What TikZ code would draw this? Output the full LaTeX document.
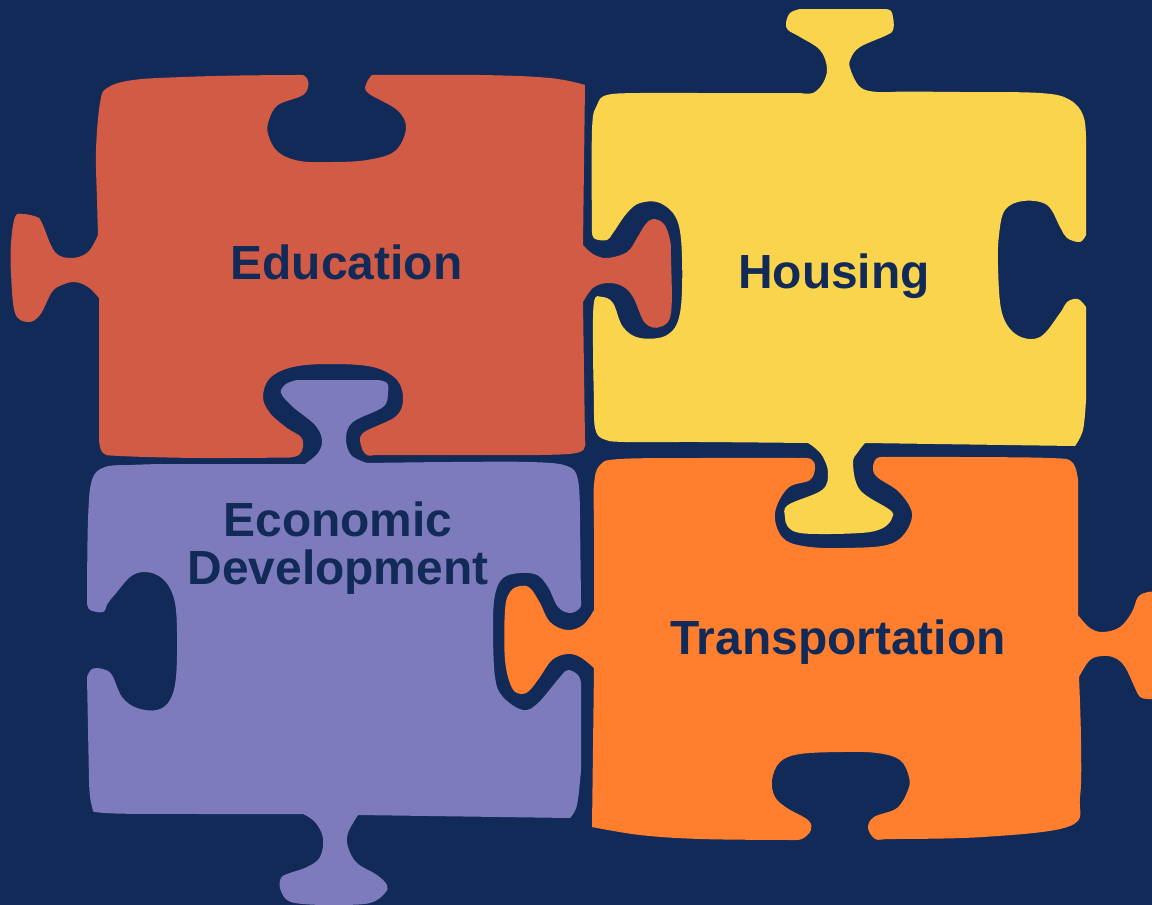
\documentclass[tikz,border=0pt]{standalone}
\usepackage{fontspec}
\setmainfont{Liberation Sans}
\definecolor{navy}{HTML}{122A58}
\definecolor{brick}{HTML}{D15B44}
\definecolor{sun}{HTML}{F9D44C}
\definecolor{lilac}{HTML}{7D7BBB}
\definecolor{tang}{HTML}{FF7F2E}
\tikzset{
  piece/.style={fill=#1,draw=none},
  title/.style={text=navy,font=\fontsize{47.9}{47}\selectfont\bfseries,align=center,inner sep=0pt,anchor=base},
  sm/.style={smooth,tension=0.6}
}
\begin{document}
\begin{tikzpicture}[x=1pt,y=-1pt]
\useasboundingbox (0,0) rectangle (1152,905);
\fill[navy] (0,0) rectangle (1152,905);
\clip (0,0) rectangle (1152,905);
% Education
\fill[piece=brick] plot[sm] coordinates {(98,235) (97,200) (96,150) (100,103) (107,88) (133,80) (183,77) (240,75.5) (295,75)}
 -- plot[sm] coordinates {(295,75) (304,75.5) (308.5,83) (303,95) (278,105) (269,120) (268,134) (278,152) (300,161) (333,162) (367,160) (395,151) (406,128) (397,110) (368,93) (366.5,83) (372,75)}
 -- plot[sm] coordinates {(372,75) (480,75) (550,78) (585,85)}
 -- (583,245)
 -- plot[sm] coordinates {(583,245) (593,254) (607,258) (627,252) (637,238) (645,225) (653,219) (664,224) (670,240) (671,257) (671,313) (660,327) (645,323) (633,297) (622,286) (607,283) (593,288) (583,302)}
 -- (585,440)
 -- plot[sm] coordinates {(585,440) (580,452) (540,455) (450,455) (375,455)}
 -- plot[sm] coordinates {(375,455) (367,455) (361.5,447) (363,433) (395,417) (403,400) (397,380) (373,367) (330,364) (293,367) (270,378) (263,397) (270,413) (287,428) (301,437) (303,447) (299,455) (290,457.5)}
 -- plot[sm] coordinates {(290,457.5) (200,458) (120,456) (103,453) (99,440)}
 -- (99,298)
 -- plot[sm] coordinates {(99,298) (88,287) (75,282) (62,285) (52,292) (40,315) (28,322) (15,313) (11,273) (11,243) (15,217) (23,214) (37,217) (42,223) (55,252) (72,258) (88,252) (98,235)}
 -- cycle;
% Housing
\fill[piece=sun] plot[sm] coordinates {(592,233) (592,130) (597,105) (607,95) (640,93) (700,93) (800,93)}
 -- plot[sm] coordinates {(800,93) (813,93) (823,83) (827,68) (820,50) (800,37) (788,30) (786,23) (790,13) (800,9)}
 -- (885,9)
 -- plot[sm] coordinates {(885,9) (891,11) (893.5,20) (893,30) (887,35) (860,47) (851,58) (850,68) (860,87) (877,92) (900,91.5)}
 -- plot[sm] coordinates {(900,91.5) (960,92) (1040,93) (1070,100) (1084,118) (1086,150)}
 -- (1086,235)
 -- plot[sm] coordinates {(1086,235) (1080,242) (1067,238) (1060,227) (1047,205) (1023,201) (1005,210) (999,235) (998,267) (1002,313) (1017,335) (1040,337) (1060,313) (1067,302) (1078,299) (1086,307)}
 -- (1086,400)
 -- plot[sm] coordinates {(1086,400) (1083,430) (1075,446)}
 -- (865,443)
 -- plot[sm] coordinates {(865,443) (858,452) (853,463) (860,490) (890,510) (892,518) (886,526) (875,531) (860,533) (830,534) (800,533) (788,527) (785,517) (788,505) (822,490) (828,473) (823,457) (815,448) (808,443)}
 -- plot[sm] coordinates {(808,443) (700,442) (625,442) (603,439) (595,428) (594,400)}
 -- plot[sm] coordinates {(594,400) (593,350) (594,302) (602,297) (613,303) (623,327) (640,338) (667,335) (680,313) (682,257) (677,220) (660,203) (640,203) (627,213) (613,233) (607,240) (595,239) (592,233)}
 -- cycle;
% Economic Development
\fill[piece=lilac] plot[sm] coordinates {(87,603) (88,520) (92,480) (105,467) (130,465) (160,464)}
 -- (305,464)
 -- plot[sm] coordinates {(305,464) (318,453) (322,440) (315,425) (293,407) (281,393) (286,384) (297,380)}
 -- (378,380)
 -- plot[sm] coordinates {(378,380) (387,383) (388,393) (383,407) (353,422) (346,438) (351,455) (367,463)}
 -- plot[sm] coordinates {(367,463) (450,462) (530,462) (567,466) (578,480) (580,520)}
 -- (581,600)
 -- plot[sm] coordinates {(581,600) (580,608) (570,613) (558,607) (548,587) (537,575) (520,573) (503,578) (495,595) (493,627) (495,677) (503,697) (523,710) (538,703) (560,677) (568,670) (578,675) (581,683)}
 -- (581,770)
 -- plot[sm] coordinates {(581,770) (577,805) (570,818)}
 -- (358,815)
 -- plot[sm] coordinates {(358,815) (348,833) (348,847) (357,863) (377,875) (387,885) (385,893) (370,903) (337,905) (303,904) (287,900) (280,888) (281,878) (287,874) (307,867) (320,857) (323,838) (315,822) (303,814)}
 -- plot[sm] coordinates {(303,814) (200,814) (105,813) (92,806) (89,780)}
 -- (87,677)
 -- plot[sm] coordinates {(87,677) (92,669) (103,669) (112,675) (122,697) (137,708) (157,710) (170,700) (176,677) (177,633) (175,603) (168,585) (157,575) (143,572) (130,577) (117,592) (108,603) (103,612) (90,610) (87,603)}
 -- cycle;
% Transportation
\fill[piece=tang] plot[sm] coordinates {(594,610) (594,530) (594,485) (600,465) (620,459) (700,458) (800,458)}
 -- plot[sm] coordinates {(800,458) (811,459) (815,467) (810,480) (788,488) (775,513) (782,537) (803,546) (843,548) (893,543) (912,517) (900,493) (877,477) (873,467) (877,458) (887,457)}
 -- plot[sm] coordinates {(887,457) (960,457) (1050,458) (1072,462) (1078,480)}
 -- (1078,615)
 -- plot[sm] coordinates {(1078,615) (1090,628) (1103,632) (1120,627) (1132,612) (1138,597) (1148,592) (1160,592)}
 -- plot[sm] coordinates {(1160,699) (1148,699) (1140,697) (1135,688) (1125,667) (1115,658) (1103,656) (1090,660) (1079,677)}
 -- plot[sm] coordinates {(1079,677) (1081,740) (1080,797) (1070,826) (983,837) (885,839)}
 -- plot[sm] coordinates {(885,839) (875,839) (868,828) (874,817) (897,808) (908,790) (909,777) (900,760) (877,753) (843,752) (800,754) (780,762) (772,780) (775,797) (787,808) (808,820) (811,830) (802,839) (790,840)}
 -- plot[sm] coordinates {(790,840) (700,839) (640,835) (592,827)}
 -- (594,668)
 -- plot[sm] coordinates {(594,668) (580,657) (567,654) (552,660) (540,677) (530,690) (522,694) (512,688) (505,660) (505,610) (510,592) (520,586) (530,588) (540,603) (550,622) (567,630) (583,625) (594,610)}
 -- cycle;
\node[title] (education) at (346.5,279) {Education};
\node[title] (housing) at (834,288.5) {Housing};
\node[title] (economic) at (338,536.5) {Economic};
\node[title] (development) at (338,584) {Development};
\node[title] (transportation) at (838,654) {Transportation};
\end{tikzpicture}
\end{document}
